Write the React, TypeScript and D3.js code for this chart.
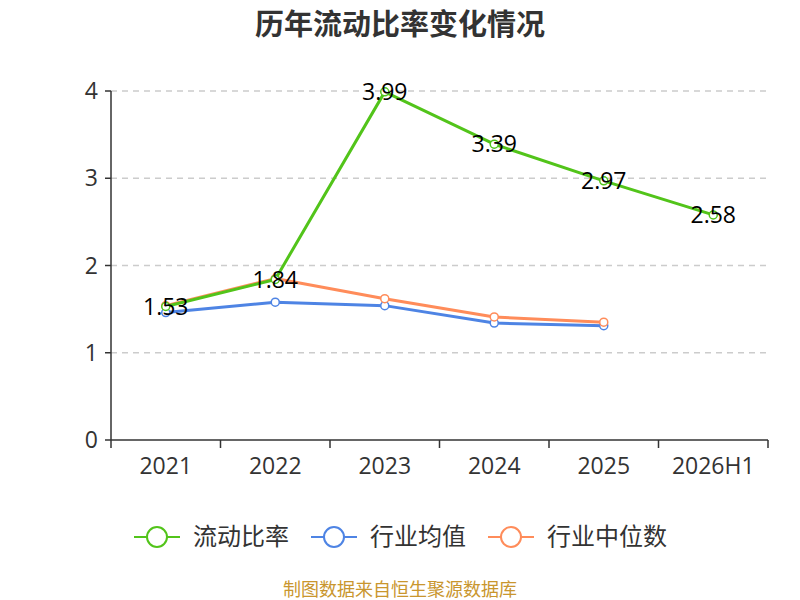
import React from "react";
import * as d3 from "d3";

const categories = ["2021", "2022", "2023", "2024", "2025", "2026H1"];
const currentRatio = [1.53, 1.84, 3.99, 3.39, 2.97, 2.58];
const industryMean = [1.46, 1.58, 1.54, 1.34, 1.31];
const industryMedian = [1.54, 1.85, 1.62, 1.41, 1.35];
const yTicks = [0, 1, 2, 3, 4];

const seriesNames = ["流动比率", "行业均值", "行业中位数"];
const colors = ["#52c41a", "#4e84e4", "#ff8c5a"];

const CJK = "'Noto Sans CJK SC', 'Open Sans', sans-serif";
const NUM = "'Open Sans', 'Noto Sans', sans-serif";

export default function App() {
  const W = 800, H = 600;
  const left = 111, right = 768, top = 91, bottom = 440;
  const x = d3.scaleBand<string>().domain(categories).range([left, right]);
  const y = d3.scaleLinear().domain([0, 4]).range([bottom, top]);
  const cx = (c: string) => (x(c) as number) + x.bandwidth() / 2;

  const line = d3
    .line<number>()
    .x((_, i) => cx(categories[i]))
    .y((d) => y(d));

  const seriesData = [currentRatio, industryMean, industryMedian];
  const drawOrder = [1, 2, 0];

  const legendItems = [
    { x: 134, textX: 193 },
    { x: 311, textX: 370 },
    { x: 488, textX: 547 },
  ];

  return (
    <svg width={W} height={H} style={{ display: "block", position: "absolute", left: 0, top: 0 }} fontFamily={CJK}>
      <rect width={W} height={H} fill="#fff" />
      <text x={400} y={35} textAnchor="middle" fontSize={29} fontWeight="bold" fill="#333">
        历年流动比率变化情况
      </text>
      {yTicks.map((t) => (
        <g key={t}>
          {t > 0 && (
            <line x1={left} x2={right} y1={y(t)} y2={y(t)} stroke="#ccc" strokeWidth={1.5} strokeDasharray="6,5" />
          )}
          <line x1={left - 6} x2={left} y1={y(t)} y2={y(t)} stroke="#333" strokeWidth={1.5} />
          <text x={left - 13} y={y(t)} dy="0.35em" textAnchor="end" fontSize={23} fill="#333" fontFamily={NUM}>
            {t}
          </text>
        </g>
      ))}
      <line x1={left} x2={left} y1={top} y2={bottom} stroke="#333" strokeWidth={1.5} />
      <line x1={left} x2={right} y1={bottom} y2={bottom} stroke="#333" strokeWidth={1.5} />
      {categories.map((c, i) => (
        <g key={c}>
          <line x1={x(c) as number} x2={x(c) as number} y1={bottom} y2={bottom + 8} stroke="#333" strokeWidth={1.5} />
          {i === categories.length - 1 && (
            <line x1={right} x2={right} y1={bottom} y2={bottom + 8} stroke="#333" strokeWidth={1.5} />
          )}
          <text x={cx(c)} y={474} textAnchor="middle" fontSize={23} fill="#333" fontFamily={NUM}>
            {c}
          </text>
        </g>
      ))}
      {drawOrder.map((si) => (
        <g key={si}>
          <path d={line(seriesData[si]) || ""} fill="none" stroke={colors[si]} strokeWidth={3} strokeLinejoin="round" />
          {seriesData[si].map((v, i) => (
            <circle key={i} cx={cx(categories[i])} cy={y(v)} r={4} fill="#fff" stroke={colors[si]} strokeWidth={1.5} />
          ))}
        </g>
      ))}
      {currentRatio.map((v, i) => (
        <text key={i} x={cx(categories[i])} y={y(v)} dy="0.35em" textAnchor="middle" fontSize={23} fill="#000" fontFamily={NUM}>
          {v.toFixed(2)}
        </text>
      ))}
      {legendItems.map((it, i) => (
        <g key={i}>
          <line x1={it.x} x2={it.x + 46} y1={537} y2={537} stroke={colors[i]} strokeWidth={2} />
          <circle cx={it.x + 23} cy={537} r={10} fill="#fff" stroke={colors[i]} strokeWidth={2} />
          <text x={it.textX} y={537} dy="0.35em" fontSize={24} fill="#333">
            {seriesNames[i]}
          </text>
        </g>
      ))}
      <text x={400} y={596} textAnchor="middle" fontSize={18} fill="#c9962e">
        制图数据来自恒生聚源数据库
      </text>
    </svg>
  );
}
